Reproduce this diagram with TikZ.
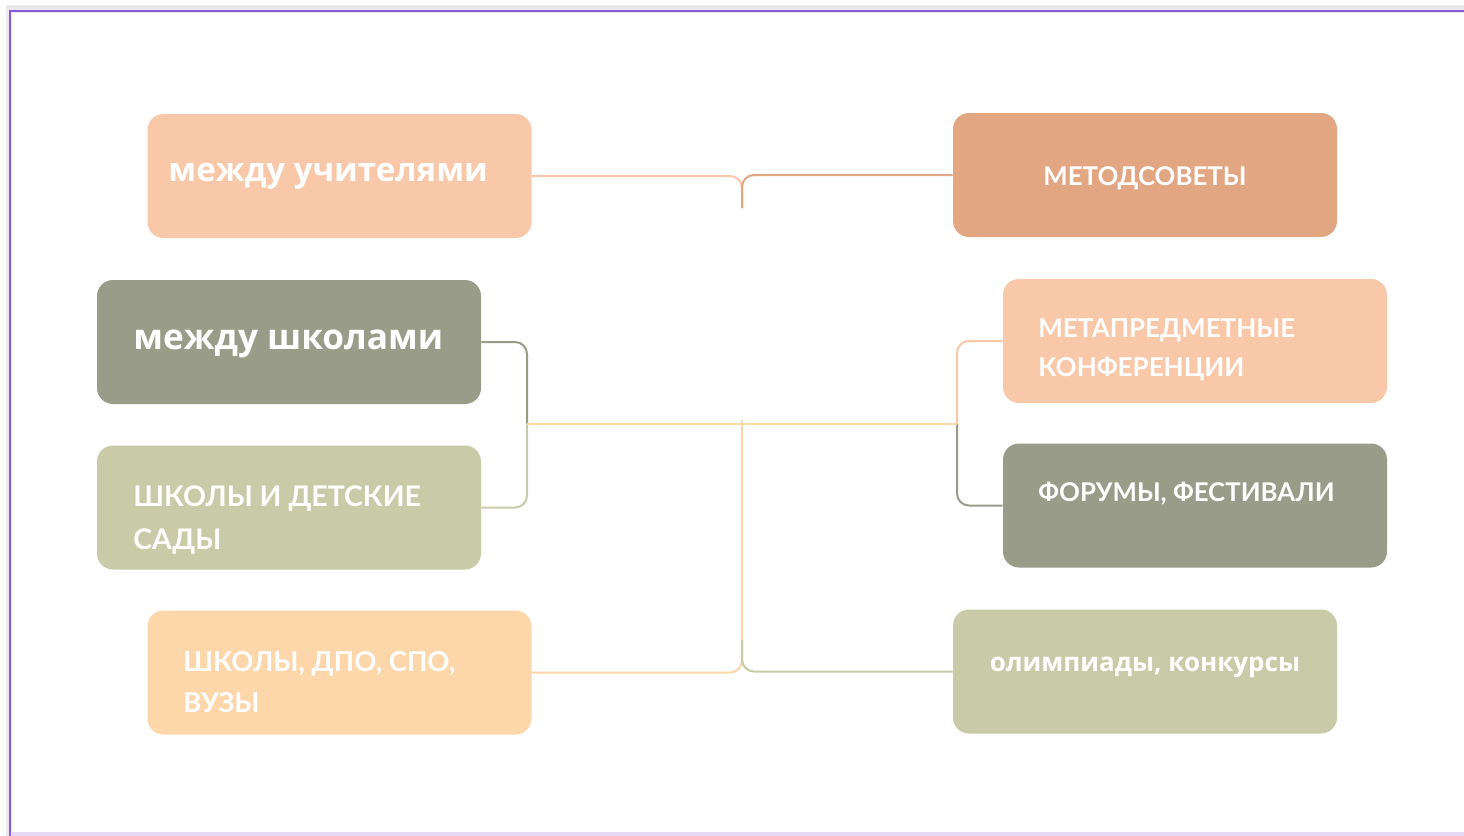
\documentclass[tikz,border=0pt]{standalone}
\usepackage{fontspec}
\setmainfont{Open Sans}
\newfontfamily\capsfont{Lato}
\usetikzlibrary{positioning}

\definecolor{peach}{HTML}{F9C8A8}
\definecolor{terra}{HTML}{E2A683}
\definecolor{sage}{HTML}{989C89}
\definecolor{olive}{HTML}{C9CBA8}
\definecolor{apricot}{HTML}{FDD6AA}
\definecolor{linkorange}{HTML}{FCD9A8}
\definecolor{framegray}{HTML}{E9E8EE}
\definecolor{framepurple}{HTML}{8A5CD6}
\definecolor{framelav}{HTML}{E6D9F5}

\tikzstyle{box} = [rectangle, rounded corners=8pt, minimum width=192pt, minimum height=62pt, inner sep=0pt]
\tikzstyle{lbl} = [text=white, inner sep=0pt, align=left]
\tikzstyle{link} = [line width=1pt, rounded corners=6pt]

\begin{document}
\begin{tikzpicture}[x=0.5pt, y=-0.5pt]
	\useasboundingbox (0,0) rectangle (1464,836);
	% frame
	\fill[framegray] (6,5) rectangle (1464,836);
	\fill[white] (12,13) rectangle (1464,832);
	\fill[framelav] (12,832) rectangle (1464,836);
	\draw[framepurple, line width=1.2pt] (10,836) |- (1464,11);
	% boxes
	\node[box,fill=peach] (teach) at (339.5,176) {};
	\node[box,fill=terra] (metod) at (1145,175) {};
	\node[box,fill=sage] (schools) at (289,342) {};
	\node[box,fill=olive] (kinder) at (289,507.5) {};
	\node[box,fill=apricot] (vuz) at (339.5,672.5) {};
	\node[box,fill=peach] (meta) at (1195,341) {};
	\node[box,fill=sage] (forum) at (1195,505.5) {};
	\node[box,fill=olive] (olymp) at (1145,671.5) {};
	% labels
	\node[lbl,anchor=west,font=\bfseries\fontsize{16.5}{20}\selectfont] (teach-t) at (168,176) {между учителями};
	\node[lbl,font=\capsfont\bfseries\fontsize{12.9}{20}\selectfont] (metod-t) at (1145,178) {МЕТОДСОВЕТЫ};
	\node[lbl,anchor=west,font=\bfseries\fontsize{17.6}{22}\selectfont] (schools-t) at (133,344) {между школами};
	\node[lbl,anchor=west,font=\capsfont\bfseries\fontsize{14.2}{21.5}\selectfont] (kinder-t) at (133,520) {ШКОЛЫ И ДЕТСКИЕ\\САДЫ};
	\node[lbl,anchor=west,font=\capsfont\bfseries\fontsize{13.7}{20.5}\selectfont] (vuz-t) at (183,682) {ШКОЛЫ, ДПО, СПО,\\ВУЗЫ};
	\node[lbl,anchor=west,font=\capsfont\bfseries\fontsize{13}{19.5}\selectfont] (meta-t) at (1038,350) {МЕТАПРЕДМЕТНЫЕ\\КОНФЕРЕНЦИИ};
	\node[lbl,anchor=west,font=\capsfont\bfseries\fontsize{12.9}{20}\selectfont] (forum-t) at (1038,494) {ФОРУМЫ, ФЕСТИВАЛИ};
	\node[lbl,font=\bfseries\fontsize{13}{18}\selectfont] (olymp-t) at (1145,667) {олимпиады, конкурсы};
	% junctions
	\coordinate (topj) at (742,208);
	\coordinate (lbr) at (527,424);
	\coordinate (rbr) at (957,424);
	\coordinate (midj) at (742,420);
	\coordinate (botj) at (742,640);
	% connectors
	\draw[link,peach] (teach.east) -| (topj);
	\draw[link,terra] (metod.west) -| (topj);
	\draw[link,sage] (schools.east) -| (lbr);
	\draw[link,olive] (kinder.east) -| (lbr);
	\draw[link,peach] (meta.west) -| (rbr);
	\draw[link,sage] (forum.west) -| (rbr);
	\draw[link,linkorange] (lbr) -- (rbr);
	\draw[link,linkorange] (midj) -- (botj);
	\draw[link,apricot] (vuz.east) -| (botj);
	\draw[link,olive] (olymp.west) -| (botj);
\end{tikzpicture}
\end{document}
